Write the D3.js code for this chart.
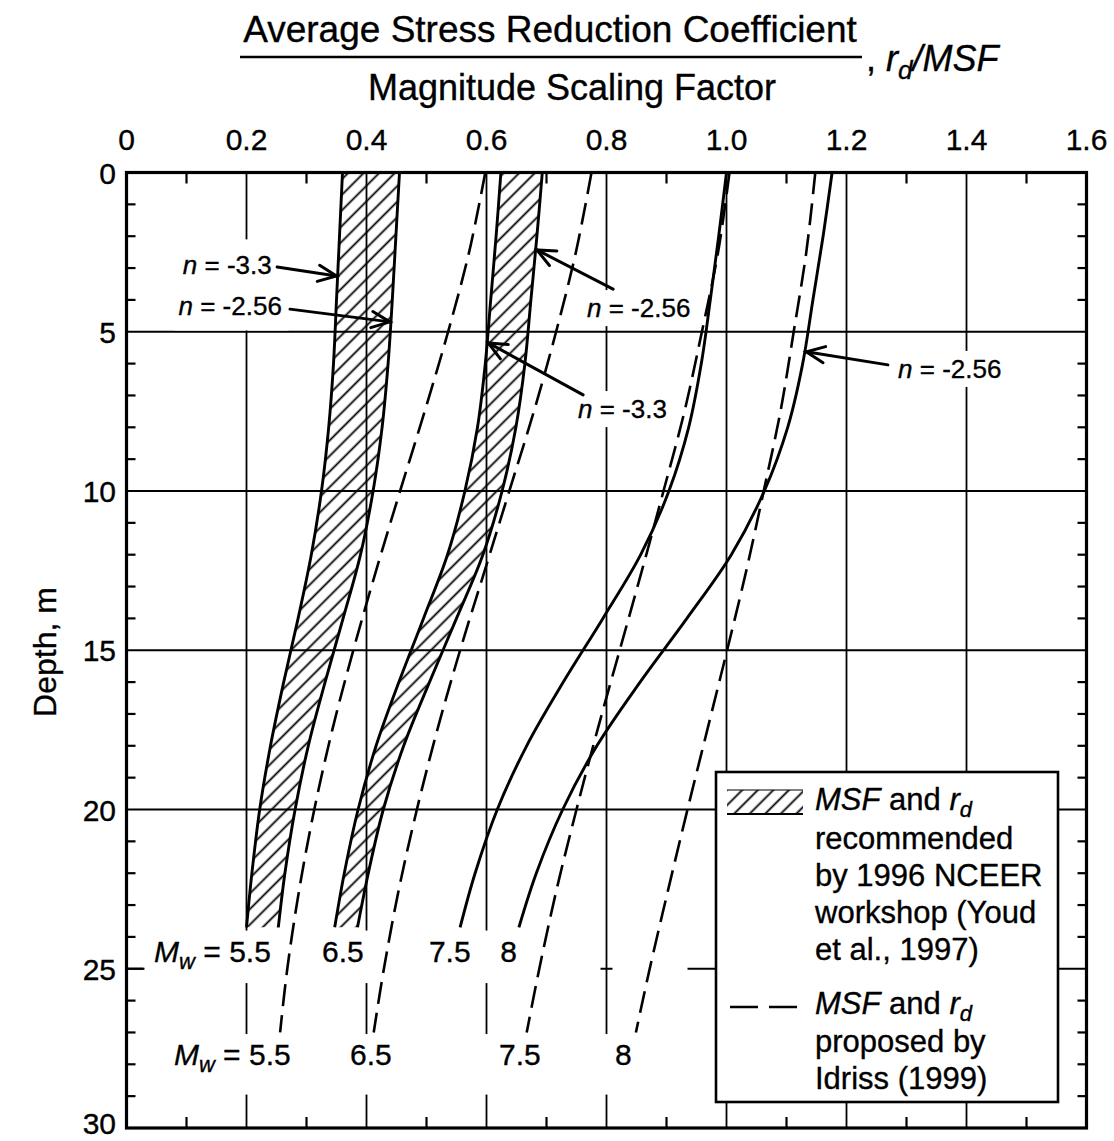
<!DOCTYPE html>
<html><head><meta charset="utf-8">
<script src="https://cdn.jsdelivr.net/npm/d3@7"></script>
<style>
body{margin:0;background:#fff}
text{font-family:"Liberation Sans",Arial,Helvetica,sans-serif;fill:#000;stroke:#000;stroke-width:0.35px}
</style>
</head><body>
<svg id="c" width="1114" height="1141"></svg>
<script>
// ---------------- data ----------------
const xTicks = [0, 0.2, 0.4, 0.6, 0.8, 1.0, 1.2, 1.4, 1.6];
const xTickLabels = ["0", "0.2", "0.4", "0.6", "0.8", "1.0", "1.2", "1.4", "1.6"];
const yTicks = [0, 5, 10, 15, 20, 25, 30];
const yTickLabels = ["0", "5", "10", "15", "20", "25", "30"];

// NCEER (Youd et al., 1997) rd/MSF curves, solid
const nceerDepth = [0, 2, 4, 6, 8, 10, 12, 14, 16, 18, 20, 22, 23.7];
const nceer55_n33  = [0.360, 0.355, 0.350, 0.345, 0.337, 0.325, 0.308, 0.286, 0.262, 0.240, 0.222, 0.209, 0.200];
const nceer55_n256 = [0.455, 0.449, 0.443, 0.436, 0.426, 0.411, 0.390, 0.361, 0.331, 0.303, 0.281, 0.264, 0.253];
const nceer65_n33  = [0.624, 0.616, 0.607, 0.598, 0.585, 0.564, 0.535, 0.495, 0.454, 0.416, 0.386, 0.363, 0.347];
const nceer65_n256 = [0.693, 0.684, 0.674, 0.664, 0.649, 0.626, 0.594, 0.550, 0.505, 0.462, 0.428, 0.403, 0.385];
const nceer75      = [1.000, 0.987, 0.973, 0.958, 0.937, 0.904, 0.857, 0.794, 0.728, 0.667, 0.618, 0.581, 0.556];
const nceer80_n256 = [1.176, 1.161, 1.144, 1.127, 1.102, 1.063, 1.008, 0.934, 0.856, 0.784, 0.727, 0.683, 0.654];

// Idriss (1999) rd/MSF curves, dashed
const idrissDepth = [0, 2.5, 5, 7.5, 10, 12.5, 15, 17.5, 20, 22.5, 25, 27];
const idriss55 = [0.598, 0.571, 0.536, 0.497, 0.456, 0.416, 0.378, 0.343, 0.313, 0.288, 0.268, 0.256];
const idriss65 = [0.775, 0.749, 0.716, 0.679, 0.638, 0.597, 0.556, 0.518, 0.484, 0.454, 0.429, 0.412];
const idriss75 = [1.005, 0.986, 0.959, 0.930, 0.895, 0.859, 0.822, 0.785, 0.750, 0.717, 0.688, 0.667];
const idriss80 = [1.148, 1.133, 1.112, 1.090, 1.062, 1.033, 1.001, 0.968, 0.935, 0.903, 0.872, 0.849];

// magnitude labels (text, value at start, has "Mw =" prefix)
const mwRow1 = [["5.5", 0.046, true], ["6.5", 0.326, false], ["7.5", 0.504, false], ["8", 0.623, false]];
const mwRow2 = [["5.5", 0.079, true], ["6.5", 0.3725, false], ["7.5", 0.621, false], ["8", 0.814, false]];
const mwRow1Depth = 24.79, mwRow2Depth = 28.02;

// n annotations: label, label anchor (value, depth), text-anchor, arrow start, arrow tip
const nNotes = [
  {t: "-3.3",  lx: 0.242, ld: 3.19, anchor: "end",   sx: 0.251, sd: 2.97, ex: 0.350, ed: 3.25},
  {t: "-2.56", lx: 0.259, ld: 4.47, anchor: "end",   sx: 0.2725, sd: 4.29, ex: 0.439, ed: 4.69},
  {t: "-2.56", lx: 0.7675, ld: 4.54, anchor: "start", sx: 0.811, sd: 3.66, ex: 0.684, ed: 2.43},
  {t: "-3.3",  lx: 0.7525, ld: 7.71, anchor: "start", sx: 0.761, sd: 6.98, ex: 0.603, ed: 5.35},
  {t: "-2.56", lx: 1.286, ld: 6.45, anchor: "start", sx: 1.269, sd: 6.04, ex: 1.133, ed: 5.63}
];

// ---------------- chart ----------------
const svg = d3.select("#c");
const x = d3.scaleLinear().domain([0, 1.6]).range([126.5, 1086.5]);
const y = d3.scaleLinear().domain([0, 30]).range([172.5, 1128]);
const X0 = x(0), X1 = x(1.6), Y0 = y(0), Y1 = y(30);

const defs = svg.append("defs");
const pat = defs.append("pattern").attr("id", "hatch")
  .attr("patternUnits", "userSpaceOnUse").attr("width", 11).attr("height", 11)
  .attr("patternTransform", "rotate(45)");
pat.append("line").attr("x1", 5.5).attr("y1", -1).attr("x2", 5.5).attr("y2", 12)
  .attr("stroke", "#000").attr("stroke-width", 1.8);

// gridlines
const gx = [0.2, 0.4, 0.6, 0.8, 1.0, 1.2, 1.4];
const gy = [5, 10, 15, 20, 25];
svg.append("g").selectAll("line").data(gx).join("line")
  .attr("x1", d => x(d)).attr("x2", d => x(d)).attr("y1", Y0).attr("y2", Y1)
  .attr("stroke", "#000").attr("stroke-width", 1.8);
svg.append("g").selectAll("line").data(gy).join("line")
  .attr("x1", X0).attr("x2", X1).attr("y1", d => y(d)).attr("y2", d => y(d))
  .attr("stroke", "#000").attr("stroke-width", 1.8);

// white masks behind the label bands
const masks = svg.append("g").attr("fill", "#fff");
masks.append("rect").attr("x", X0 + 18).attr("y", y(23.8)).attr("width", x(0.79) - X0 - 18).attr("height", y(25.45) - y(23.8));
masks.append("rect").attr("x", x(0.81)).attr("y", y(24.8)).attr("width", x(0.935) - x(0.81)).attr("height", y(25.2) - y(24.8));
masks.append("rect").attr("x", X0 + 18).attr("y", y(27.05)).attr("width", x(0.95) - X0 - 18).attr("height", y(28.95) - y(27.05));
masks.append("rect").attr("x", x(0.08)).attr("y", y(2.1)).attr("width", x(0.27) - x(0.08)).attr("height", y(4.96) - y(2.1));

// hatched NCEER bands
const zipBand = (L, R) => nceerDepth.map((d, i) => ({d, l: L[i], r: R[i]}));
const area = d3.area().y(p => y(p.d)).x0(p => x(p.l)).x1(p => x(p.r)).curve(d3.curveCatmullRom);
[[nceer55_n33, nceer55_n256], [nceer65_n33, nceer65_n256]].forEach(([L, R]) => {
  svg.append("path").attr("d", area(zipBand(L, R))).attr("fill", "url(#hatch)").attr("stroke", "none");
});

const line = d3.line().x(p => x(p.v)).y(p => y(p.d)).curve(d3.curveCatmullRom);
const zip = (D, V) => D.map((d, i) => ({d, v: V[i]}));

// solid NCEER curves
[nceer55_n33, nceer55_n256, nceer65_n33, nceer65_n256, nceer75, nceer80_n256].forEach(V => {
  svg.append("path").attr("d", line(zip(nceerDepth, V)))
    .attr("fill", "none").attr("stroke", "#000").attr("stroke-width", 2.9);
});
// dashed Idriss curves
[idriss55, idriss65, idriss75, idriss80].forEach(V => {
  svg.append("path").attr("d", line(zip(idrissDepth, V)))
    .attr("fill", "none").attr("stroke", "#000").attr("stroke-width", 2.6)
    .attr("stroke-dasharray", "22,9");
});

// frame and ticks
svg.append("rect").attr("x", X0).attr("y", Y0).attr("width", X1 - X0).attr("height", Y1 - Y0)
  .attr("fill", "none").attr("stroke", "#000").attr("stroke-width", 3.2);
const tk = svg.append("g").attr("stroke", "#000").attr("stroke-width", 2.2);
d3.range(1, 16, 2).map(i => i / 10).forEach(v => {
  tk.append("line").attr("x1", x(v)).attr("x2", x(v)).attr("y1", Y0).attr("y2", Y0 + 11);
  tk.append("line").attr("x1", x(v)).attr("x2", x(v)).attr("y1", Y1).attr("y2", Y1 - 11);
});
d3.range(1, 30).filter(d => d % 5 !== 0).forEach(d => {
  tk.append("line").attr("x1", X0).attr("x2", X0 + 9).attr("y1", y(d)).attr("y2", y(d));
  tk.append("line").attr("x1", X1).attr("x2", X1 - 9).attr("y1", y(d)).attr("y2", y(d));
});
tk.append("line").attr("x1", X0).attr("x2", X0 + 17).attr("y1", y(25)).attr("y2", y(25));

// tick labels
svg.append("g").selectAll("text").data(xTicks).join("text")
  .attr("x", d => x(d)).attr("y", 150).attr("text-anchor", "middle")
  .attr("font-size", 30).text((d, i) => xTickLabels[i]);
svg.append("g").selectAll("text").data(yTicks).join("text")
  .attr("x", 116).attr("y", d => Math.min(y(d) + 11, 1134)).attr("text-anchor", "end")
  .attr("font-size", 30).text((d, i) => yTickLabels[i]);

// axis titles
svg.append("text").attr("x", 550).attr("y", 42).attr("text-anchor", "middle")
  .attr("font-size", 37).text("Average Stress Reduction Coefficient");
svg.append("line").attr("x1", 240).attr("x2", 862).attr("y1", 57).attr("y2", 57)
  .attr("stroke", "#000").attr("stroke-width", 2.6);
const t2 = svg.append("text").attr("x", 866).attr("y", 71).attr("font-size", 36);
t2.append("tspan").text(", ");
t2.append("tspan").attr("font-style", "italic").text("r");
t2.append("tspan").attr("font-style", "italic").attr("font-size", 26).attr("dy", 8).text("d");
t2.append("tspan").attr("font-style", "italic").attr("dy", -8).text("/MSF");
svg.append("text").attr("x", 572).attr("y", 100).attr("text-anchor", "middle")
  .attr("font-size", 36).text("Magnitude Scaling Factor");
svg.append("text").attr("transform", "translate(56,652) rotate(-90)").attr("text-anchor", "middle")
  .attr("font-size", 32).text("Depth, m");

// magnitude labels
function mwLabel(row, depth) {
  row.forEach(([t, v, withM]) => {
    const tx = svg.append("text").attr("x", x(v)).attr("y", y(depth)).attr("font-size", 30);
    if (withM) {
      tx.append("tspan").attr("font-style", "italic").text("M");
      tx.append("tspan").attr("font-style", "italic").attr("font-size", 22).attr("dy", 7).text("w");
      tx.append("tspan").attr("dy", -7).text(" = " + t);
    } else tx.text(t);
  });
}
mwLabel(mwRow1, mwRow1Depth);
mwLabel(mwRow2, mwRow2Depth);

// n annotations with arrows
nNotes.forEach(n => {
  const tx = svg.append("text").attr("x", x(n.lx)).attr("y", y(n.ld)).attr("font-size", 26)
    .attr("text-anchor", n.anchor);
  tx.append("tspan").attr("font-style", "italic").text("n");
  tx.append("tspan").text(" = " + n.t);
  const bb = tx.node().getBBox();
  svg.insert("rect", "path").attr("x", bb.x - 5).attr("y", bb.y - 3).attr("width", bb.width + 10)
    .attr("height", bb.height + 6).attr("fill", "#fff");
  const sx = x(n.sx), sy = y(n.sd), ex = x(n.ex), ey = y(n.ed);
  const ang = Math.atan2(ey - sy, ex - sx), L = 20, a = 0.42;
  const g = svg.append("g").attr("stroke", "#000").attr("stroke-width", 3).attr("fill", "none")
    .attr("stroke-linecap", "round");
  g.append("line").attr("x1", sx).attr("y1", sy).attr("x2", ex).attr("y2", ey);
  g.append("path").attr("d", `M${ex - L * Math.cos(ang - a)},${ey - L * Math.sin(ang - a)} L${ex},${ey} L${ex - L * Math.cos(ang + a)},${ey - L * Math.sin(ang + a)}`);
});

// legend
const lg = svg.append("g");
lg.append("rect").attr("x", 716).attr("y", 772).attr("width", 342).attr("height", 330)
  .attr("fill", "#fff").attr("stroke", "#000").attr("stroke-width", 2.6);
lg.append("rect").attr("x", 727).attr("y", 790).attr("width", 76).attr("height", 24).attr("fill", "url(#hatch)");
lg.append("line").attr("x1", 727).attr("x2", 803).attr("y1", 790).attr("y2", 790).attr("stroke", "#000").attr("stroke-width", 1.2);
lg.append("line").attr("x1", 727).attr("x2", 803).attr("y1", 814).attr("y2", 814).attr("stroke", "#000").attr("stroke-width", 2.2);
lg.append("line").attr("x1", 730).attr("x2", 797).attr("y1", 1007).attr("y2", 1007)
  .attr("stroke", "#000").attr("stroke-width", 2.4).attr("stroke-dasharray", "28,11");
function msfLine(yy) {
  const t = lg.append("text").attr("x", 815).attr("y", yy).attr("font-size", 31);
  t.append("tspan").attr("font-style", "italic").text("MSF");
  t.append("tspan").text(" and ");
  t.append("tspan").attr("font-style", "italic").text("r");
  t.append("tspan").attr("font-style", "italic").attr("font-size", 22).attr("dy", 7).text("d");
}
msfLine(810);
["recommended", "by 1996 NCEER", "workshop (Youd", "et al., 1997)"].forEach((s, i) => {
  lg.append("text").attr("x", 815).attr("y", 849 + i * 37).attr("font-size", 31).text(s);
});
msfLine(1014);
["proposed by", "Idriss (1999)"].forEach((s, i) => {
  lg.append("text").attr("x", 815).attr("y", 1052 + i * 37).attr("font-size", 31).text(s);
});
</script>
</body></html>
